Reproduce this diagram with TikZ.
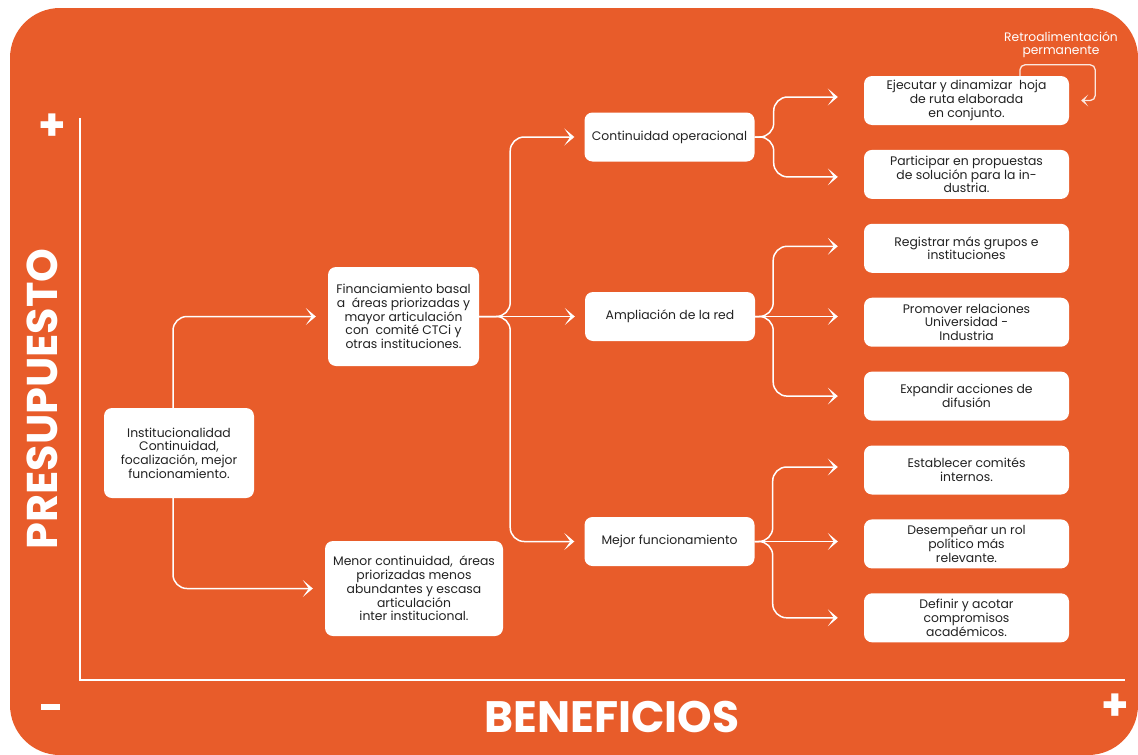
\documentclass[tikz,border=0pt]{standalone}
\usepackage{fontspec}
\setmainfont{Poppins}
\usetikzlibrary{positioning,calc,arrows.meta}
\definecolor{bgorange}{RGB}{232,92,42}
\definecolor{txtgray}{RGB}{34,34,34}
\tikzset{box/.style={rounded corners=8, fill=white, text=txtgray, align=center, inner sep=0pt, font=\fontsize{12.4}{13.7}\selectfont}}
\tikzset{srcbox/.style={box, minimum width=150pt, minimum height=90pt}}
\tikzset{midbox/.style={box, minimum width=170pt, minimum height=49pt}}
\tikzset{actbox/.style={box, minimum width=205pt, minimum height=49pt}}
\tikzset{conn/.style={draw=white, line width=1.5pt, rounded corners=14pt, -{Stealth[length=10pt, inset=6pt, width=17pt]}}}
\tikzset{fb/.style={draw=white!85!bgorange, line width=1.3pt, rounded corners=5pt, -{Stealth[length=7pt, inset=4pt, width=12pt]}}}
\tikzset{sign/.style={text=white, font=\fontsize{44}{44}\bfseries\selectfont, inner sep=0pt}}
\tikzset{minus/.style={fill=white, minimum width=19pt, minimum height=6pt, inner sep=0pt}}
\tikzset{axtitle/.style={text=white, font=\fontsize{44}{44}\bfseries\selectfont, inner sep=0pt}}
\begin{document}
\begin{tikzpicture}[x=1pt, y=-1pt]
			\useasboundingbox (0,0) rectangle (1138,755);
			\fill[bgorange, rounded corners=50pt] (10,8) rectangle (1138,755);
			% axes
			\draw[white, line width=2pt] (80,118) -- (80,680) -- (1125,680);
			\node[sign] (ytop) at (52,127) {+};
			\node[minus] (xlow) at (50,707) {};
			\node[sign] (xtop) at (1115,707) {+};
			\node[axtitle, rotate=90, font=\fontsize{43}{43}\bfseries\selectfont] (ylab) at (42,399) {PRESUPUESTO};
			\node[axtitle] (xlab) at (612,717) {BENEFICIOS};
			%
			\node[srcbox] (inst) at (179,453) {Institucionalidad\\ Continuidad,\\ focalización, mejor\\ funcionamiento.};
			\node[box, minimum width=151pt, minimum height=99pt] (fin) at (403.5,316.5) {Financiamiento basal\\ a \ áreas priorizadas y\\ mayor articulación\\ con \ comité CTCi y\\ otras instituciones.};
			\node[box, minimum width=178pt, minimum height=95pt] (menor) at (414,588.5) {Menor continuidad, \ áreas\\ priorizadas menos\\ abundantes y escasa\\ articulación\\ inter institucional.};
			%
			\node[midbox] (cont) at (669.5,137) {Continuidad operacional};
			\node[midbox] (amp) at (670,316.5) {Ampliación de la red};
			\node[midbox] (mejor) at (669.5,541.5) {Mejor funcionamiento};
			%
			\node[actbox] (ejec) at (966.5,100.5) {Ejecutar y dinamizar \ hoja\\ de ruta elaborada\\ en conjunto.};
			\node[actbox, below=24.5pt of ejec] (part) {Participar en propuestas\\ de solución para la in-\\ dustria.};
			\node[actbox, below=24.5pt of part] (regis) {Registrar más grupos e\\ instituciones};
			\node[actbox, below=24.5pt of regis] (prom) {Promover relaciones\\ Universidad -\\ Industria};
			\node[actbox, below=24.5pt of prom] (expan) {Expandir acciones de\\ difusión};
			\node[actbox, below=24.5pt of expan] (estab) {Establecer comités\\ internos.};
			\node[actbox, below=24.5pt of estab] (desem) {Desempeñar un rol\\ político más\\ relevante.};
			\node[actbox, below=24.5pt of desem] (defin) {Definir y acotar\\ compromisos\\ académicos.};
			%
			\draw[conn, shorten >=12pt] ([xshift=-6pt]inst.north) |- (fin.west);
			\draw[conn, shorten >=12pt] ([xshift=-6pt]inst.south) |- (menor.west);
			%
			\draw[conn, shorten >=10pt] (fin.east) -- ++(31,0) |- (cont.west);
			\draw[conn, shorten >=10pt] (fin.east) -- (amp.west);
			\draw[conn, shorten >=10pt] (fin.east) -- ++(31,0) |- (mejor.west);
			%
			\draw[conn, shorten >=26pt] (cont.east) -- ++(19,0) |- ([yshift=3.5pt]ejec.west);
			\draw[conn, shorten >=26pt] (cont.east) -- ++(19,0) |- ([yshift=-2.5pt]part.west);
			%
			\draw[conn, shorten >=26pt] (amp.east) -- ++(18,0) |- ([yshift=2pt]regis.west);
			\draw[conn, shorten >=26pt] (amp.east) -- (amp.east -| prom.west);
			\draw[conn, shorten >=26pt] (amp.east) -- ++(18,0) |- (expan.west);
			%
			\draw[conn, shorten >=26pt] (mejor.east) -- ++(18,0) |- ([yshift=3pt]estab.west);
			\draw[conn, shorten >=26pt] (mejor.east) -- (mejor.east -| desem.west);
			\draw[conn, shorten >=26pt] (mejor.east) -- ++(18,0) |- (defin.west);
			%
			\node[text=white, align=center, inner sep=0pt, font=\fontsize{12.3}{13}\selectfont] (fblab) at (1061,45) {Retroalimentación\\ permanente};
			\draw[fb] ([xshift=53.5pt]ejec.north) -- ++(0,-11) -| ([xshift=26pt]ejec.east) -- ([xshift=12pt]ejec.east);
		\end{tikzpicture}
\end{document}
